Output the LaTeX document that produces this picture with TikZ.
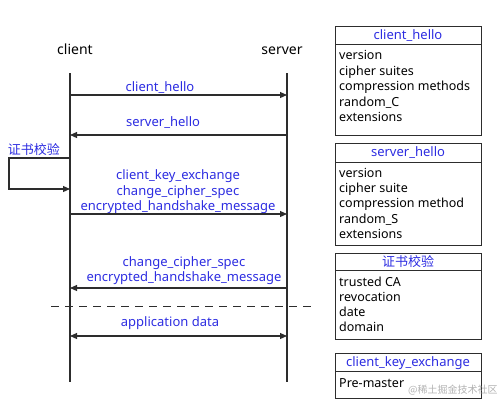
\documentclass[tikz,border=0pt]{standalone}
\usepackage{fontspec}
\setmainfont{Noto Sans}
\newfontfamily\cjk{Noto Sans CJK SC}
\usetikzlibrary{arrows.meta}
\definecolor{msgblue}{RGB}{45,45,225}
\definecolor{linegray}{RGB}{45,45,45}
\tikzset{
  lifeline/.style={draw=linegray, line width=1.1pt},
  msg/.style={draw=linegray, line width=1.1pt, -{Triangle[length=7pt,width=6pt]}},
  bimsg/.style={draw=linegray, line width=1.1pt, {Triangle[length=7pt,width=6pt]}-{Triangle[length=7pt,width=6pt]}},
  lbl/.style={text=msgblue, font=\fontsize{13}{15}\selectfont, inner sep=0pt, anchor=base},
  actor/.style={font=\fontsize{14}{16}\selectfont, inner sep=0pt, anchor=base},
  item/.style={font=\fontsize{12.5}{15}\selectfont, inner sep=0pt, anchor=base west},
  boxframe/.style={draw=linegray, line width=0.9pt},
  sep/.style={draw=linegray, line width=1pt, dash pattern=on 8pt off 6pt},
  wmark/.style={text=black!30, font=\cjk\fontsize{10}{12}\selectfont, inner sep=0pt, anchor=base west},
}
\begin{document}
\begin{tikzpicture}[x=1pt,y=-1pt]
\useasboundingbox (0,0) rectangle (499,405);
% actors
\node[actor] (client) at (75,54) {client};
\node[actor] (server) at (282,54) {server};
% lifelines
\coordinate (ctop) at (70,73);
\coordinate (cbot) at (70,382);
\coordinate (stop) at (287,73);
\coordinate (sbot) at (287,382);
\draw[lifeline] (ctop) -- (cbot);
\draw[lifeline] (stop) -- (sbot);
% client_hello
\coordinate (c1) at (70,95); \coordinate (s1) at (287,95);
\node[lbl] (m1) at (160,91) {client\_hello};
\draw[msg] (c1) -- (s1);
% server_hello
\coordinate (c2) at (70,135); \coordinate (s2) at (287,135);
\node[lbl] (m2) at (163,126) {server\_hello};
\draw[msg] (s2) -- (c2);
% self check
\node[lbl] (chk) at (34,154) {\cjk 证书校验};
\coordinate (l1) at (70,158); \coordinate (l2) at (9,158);
\coordinate (l3) at (9,189); \coordinate (l4) at (70,189);
\draw[msg] (l1) -- (l2) -- (l3) -- (l4);
% client key exchange
\node[lbl] (m3a) at (178,179) {client\_key\_exchange};
\node[lbl] (m3b) at (178,195) {change\_cipher\_spec};
\node[lbl] (m3c) at (178,210) {encrypted\_handshake\_message};
\coordinate (c3) at (70,214); \coordinate (s3) at (287,214);
\draw[msg] (c3) -- (s3);
% server finish
\node[lbl] (m4a) at (184,266) {change\_cipher\_spec};
\node[lbl] (m4b) at (184,281) {encrypted\_handshake\_message};
\coordinate (c4) at (70,288); \coordinate (s4) at (287,288);
\draw[msg] (s4) -- (c4);
% separator
\coordinate (d1) at (51,306); \coordinate (d2) at (312,306);
\draw[sep] (d1) -- (d2);
% application data
\node[lbl] (m5) at (170,326) {application data};
\coordinate (c5) at (70,336); \coordinate (s5) at (287,336);
\draw[bimsg] (c5) -- (s5);

% boxes
\draw[boxframe] (335,26) rectangle (481,135);
\draw[boxframe] (335,44) -- (481,44);
\node[lbl] (b1) at (408,39) {client\_hello};
\node[item] (b1a) at (339,59) {version};
\node[item] (b1b) at (339,75) {cipher suites};
\node[item] (b1c) at (339,90) {compression methods};
\node[item] (b1d) at (339,106) {random\_C};
\node[item] (b1e) at (339,121) {extensions};

\draw[boxframe] (335,143) rectangle (481,245);
\draw[boxframe] (335,162) -- (481,162);
\node[lbl] (b2) at (408,156) {server\_hello};
\node[item] (b2a) at (339,177) {version};
\node[item] (b2b) at (339,192) {cipher suite};
\node[item] (b2c) at (339,207) {compression method};
\node[item] (b2d) at (339,223) {random\_S};
\node[item] (b2e) at (339,238) {extensions};

\draw[boxframe] (335,253) rectangle (481,339);
\draw[boxframe] (335,270) -- (481,270);
\node[lbl] (b3) at (408,266) {\cjk 证书校验};
\node[item] (b3a) at (339,286) {trusted CA};
\node[item] (b3b) at (339,301) {revocation};
\node[item] (b3c) at (339,316) {date};
\node[item] (b3d) at (339,331) {domain};

\draw[boxframe] (335,353) rectangle (481,398);
\draw[boxframe] (335,371) -- (481,371);
\node[lbl] (b4) at (408,366) {client\_key\_exchange};
\node[item] (b4a) at (339,387) {Pre-master};
\node[wmark] (wm) at (408,393) {@稀土掘金技术社区};
\end{tikzpicture}
\end{document}
